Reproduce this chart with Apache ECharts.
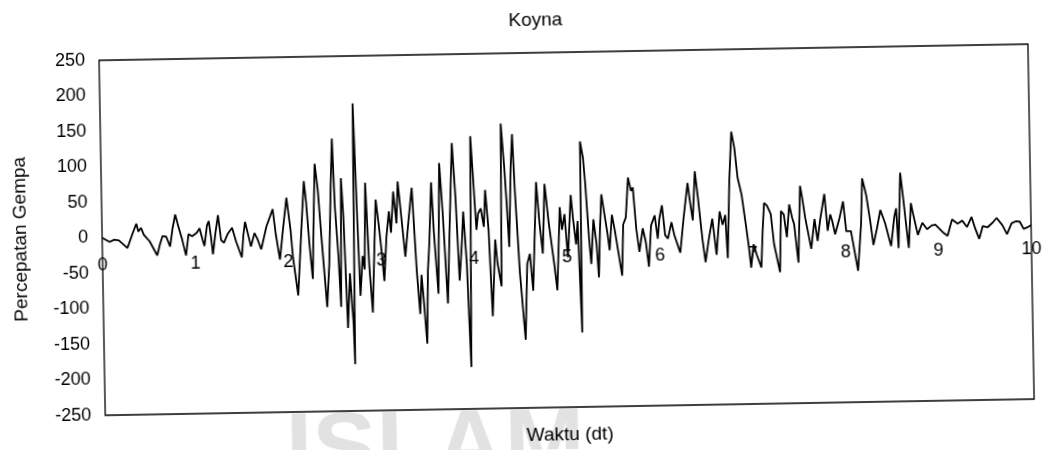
<!DOCTYPE html>
<html>
<head>
<meta charset="utf-8">
<script src="https://cdn.jsdelivr.net/npm/echarts@6/dist/echarts.min.js"></script>
<style>
  html, body { margin: 0; padding: 0; background: #fff; overflow: hidden; }
  /* the scanned original is slightly skewed, so the whole chart is turned a little */
  #koyna { width: 1043px; height: 450px; transform: rotate(-1deg); transform-origin: 50% 50%; }
</style>
</head>
<body>
<div id="koyna"></div>
<script>
  // Koyna ground acceleration at the turning points
  var times = [
    0.00, 0.02, 0.08, 0.13, 0.18, 0.27, 0.33, 0.37, 0.39, 0.42, 0.45, 0.51, 0.59, 0.62, 0.65, 0.69,
    0.73, 0.76, 0.79, 0.82, 0.86, 0.90, 0.93, 0.97, 1.02, 1.05, 1.08, 1.10, 1.13, 1.15, 1.17, 1.19,
    1.22, 1.25, 1.28, 1.31, 1.35, 1.40, 1.44, 1.50, 1.52, 1.54, 1.57, 1.60, 1.64, 1.67, 1.71, 1.77,
    1.84, 1.87, 1.91, 1.95, 1.99, 2.03, 2.05, 2.10, 2.14, 2.18, 2.20, 2.23, 2.26, 2.28, 2.30, 2.33,
    2.36, 2.41, 2.44, 2.47, 2.49, 2.51, 2.54, 2.56, 2.58, 2.60, 2.63, 2.66, 2.69, 2.70, 2.72, 2.75,
    2.77, 2.80, 2.82, 2.84, 2.87, 2.90, 2.93, 2.95, 2.98, 3.01, 3.03, 3.06, 3.09, 3.11, 3.14, 3.17,
    3.19, 3.22, 3.26, 3.30, 3.34, 3.38, 3.41, 3.43, 3.45, 3.48, 3.50, 3.52, 3.55, 3.57, 3.61, 3.64,
    3.67, 3.71, 3.74, 3.78, 3.81, 3.84, 3.87, 3.89, 3.92, 3.95, 3.98, 4.00, 4.03, 4.05, 4.08, 4.11,
    4.13, 4.16, 4.19, 4.23, 4.25, 4.29, 4.31, 4.34, 4.36, 4.38, 4.41, 4.43, 4.45, 4.49, 4.54, 4.57,
    4.60, 4.63, 4.68, 4.71, 4.74, 4.77, 4.81, 4.86, 4.89, 4.93, 4.95, 4.98, 5.01, 5.05, 5.07, 5.10,
    5.12, 5.15, 5.16, 5.19, 5.21, 5.24, 5.26, 5.29, 5.32, 5.34, 5.36, 5.38, 5.41, 5.44, 5.46, 5.49,
    5.52, 5.55, 5.59, 5.61, 5.64, 5.67, 5.70, 5.72, 5.75, 5.78, 5.82, 5.85, 5.88, 5.91, 5.95, 5.98,
    6.00, 6.03, 6.06, 6.09, 6.13, 6.16, 6.22, 6.26, 6.31, 6.33, 6.36, 6.39, 6.42, 6.46, 6.49, 6.53,
    6.57, 6.61, 6.65, 6.68, 6.71, 6.73, 6.76, 6.79, 6.82, 6.85, 6.89, 6.93, 6.96, 6.98, 7.01, 7.04,
    7.09, 7.11, 7.13, 7.16, 7.20, 7.23, 7.29, 7.31, 7.34, 7.37, 7.40, 7.43, 7.45, 7.49, 7.52, 7.54,
    7.57, 7.63, 7.67, 7.70, 7.73, 7.78, 7.81, 7.84, 7.86, 7.89, 7.94, 7.98, 8.01, 8.06, 8.13, 8.17,
    8.19, 8.23, 8.27, 8.30, 8.34, 8.38, 8.43, 8.49, 8.53, 8.55, 8.57, 8.60, 8.63, 8.65, 8.68, 8.71,
    8.73, 8.78, 8.83, 8.88, 8.93, 8.97, 9.05, 9.10, 9.15, 9.21, 9.26, 9.31, 9.36, 9.40, 9.44, 9.48,
    9.53, 9.59, 9.63, 9.69, 9.74, 9.79, 9.84, 9.88, 9.92, 9.96, 10.00
  ];
  var accel = [
    0, -1, -6, -3, -4, -15, 6, 19, 8, 13, 3, -6, -26, -11, 1, 0,
    -14, 12, 31, 15, -4, -27, 3, 0, 5, 11, -5, -14, 15, 21, 0, -26,
    4, 29, -6, -10, 2, 11, -8, -31, 0, 19, 2, -16, 3, -5, -20, 12,
    36, 0, -35, 10, 52, 5, -32, -86, -4, 75, 47, -14, -63, 24, 99, 61,
    -4, -103, -42, 71, 134, 38, -32, -103, 78, 24, -133, -56, -126, -184, 183, 15,
    -88, -32, -51, 71, -46, -112, -14, 47, 10, -33, -68, -5, 30, 0, 58, 13,
    72, 27, -34, 17, 63, -54, -115, -60, -95, -157, -54, -16, 70, 2, -87, 97,
    25, -101, 1, 125, 48, -69, -17, 28, -45, -191, 134, 82, 2, 25, 32, 6,
    58, 2, -120, -12, -45, -78, 151, 90, 38, -23, 90, 136, 57, -60, -154, -47,
    -33, -85, 68, 9, -33, 65, 9, -47, -85, 32, 0, 22, -39, 49, 17, -21,
    12, -145, 124, 100, 62, -12, -49, 14, -21, -68, 2, 49, 21, -7, -30, 20,
    -3, -30, -66, 6, 16, 72, 53, 58, 0, -33, 0, -19, -54, 4, 18, -15,
    13, 32, -10, -15, 8, -11, -35, 12, 63, 40, 10, 79, 41, -16, -49, -16,
    12, -39, 22, 3, 17, -44, 64, 134, 111, 69, 45, 3, -30, -58, -25, -39,
    -58, -6, 33, 29, 17, -25, -65, 21, 16, -16, 30, 11, 2, -52, 56, 40,
    11, -33, 9, -22, 7, 44, -8, 15, 6, -13, 10, 33, -9, -9, -65, 0,
    65, 42, 4, -29, -6, 20, 1, -31, 11, 22, -34, 72, 34, 6, -34, 29,
    15, -16, 1, -8, -3, -2, -13, -18, 5, -1, 3, -6, 8, -9, -23, -5,
    -7, 0, 6, -4, -17, -2, 1, 0, -10, -8, -5
  ];
  var yMin = -250, yMax = 250, yStep = 50;
  var xMin = 0, xMax = 10, xStep = 1;

  var font = "'Liberation Sans', Arial, sans-serif";
  var points = times.map(function (t, i) { return [t, accel[i]]; });

  var gridTop = 53, gridBottom = 42;
  // the time labels sit on the zero line, which is the middle of the plot
  var zeroOffset = -(450 - gridTop - gridBottom) / 2;

  var chart = echarts.init(document.getElementById('koyna'));
  chart.setOption({
    animation: false,
    backgroundColor: '#fff',
    textStyle: { fontFamily: font, color: '#000' },
    title: {
      text: 'Koyna',
      left: 534,
      top: 6,
      textAlign: 'center',
      textStyle: { fontFamily: font, fontSize: 19, fontWeight: 'normal', color: '#000' }
    },
    graphic: [{
      type: 'text',
      left: 282,
      top: 402,
      z: -10,
      silent: true,
      style: {
        text: 'ISLAM',
        fontFamily: font,
        fontSize: 96,
        fontWeight: 'bold',
        fill: '#e2e2e2'
      }
    }],
    grid: {
      left: 102,
      right: 12,
      top: gridTop,
      bottom: gridBottom,
      outerBoundsMode: 'none',
      containLabel: false,
      show: true,
      borderColor: '#000',
      borderWidth: 1.3,
      backgroundColor: 'transparent'
    },
    xAxis: {
      type: 'value',
      min: xMin,
      max: xMax,
      interval: xStep,
      offset: zeroOffset,
      name: 'Waktu (dt)',
      nameLocation: 'middle',
      nameGap: 196,
      nameTextStyle: { fontFamily: font, fontSize: 19, color: '#000' },
      axisLine: { show: false, onZero: false },
      axisTick: { show: false },
      splitLine: { show: false },
      axisLabel: { fontFamily: font, fontSize: 18, color: '#000', margin: 19 }
    },
    yAxis: {
      type: 'value',
      min: yMin,
      max: yMax,
      interval: yStep,
      name: 'Percepatan Gempa',
      nameLocation: 'middle',
      nameRotate: 90,
      nameGap: 72,
      nameTextStyle: { fontFamily: font, fontSize: 19, color: '#000' },
      axisLine: { show: false, onZero: false },
      axisTick: { show: false },
      splitLine: { show: false },
      axisLabel: { fontFamily: font, fontSize: 18, color: '#000', margin: 14 }
    },
    series: [{
      name: 'Koyna',
      type: 'line',
      data: points,
      showSymbol: false,
      symbol: 'none',
      lineStyle: { color: '#000', width: 1.8 }
    }]
  });
</script>
</body>
</html>
